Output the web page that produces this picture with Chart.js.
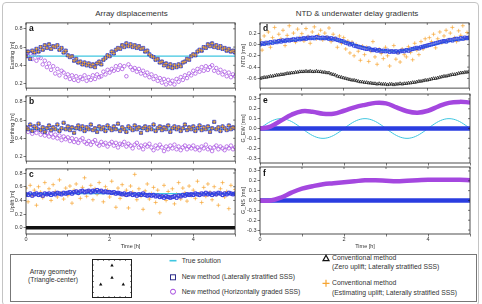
<!DOCTYPE html>
<html>
<head>
<meta charset="utf-8">
<script src="https://cdn.jsdelivr.net/npm/chart.js@4.4.1/dist/chart.umd.min.js"></script>
<style>
  html, body { margin: 0; padding: 0; background: #fff; }
  #fig { position: relative; width: 482px; height: 304px; overflow: hidden;
         font-family: "Liberation Sans", Arial, Helvetica, sans-serif; color: #333; }
  #frame { position: absolute; left: 2px; top: 2px; width: 477px; height: 304px;
           border: 1px solid #c4c4c4; border-radius: 4px; box-sizing: border-box; }
  #legend { position: absolute; left: 10px; top: 254px; width: 467px; height: 48px;
            border: 1px solid #777; box-sizing: border-box; }
  canvas { position: absolute; }
  .title { position: absolute; font-size: 8px; white-space: nowrap; transform: translate(-50%, -50%); }
  .lt { position: absolute; font-size: 6.8px; line-height: 1; white-space: nowrap; transform: translateY(-50%); }
  .lc { position: absolute; font-size: 6.8px; line-height: 1; white-space: nowrap; transform: translate(-50%, -50%); }
  svg { position: absolute; left: 0; top: 0; }
</style>
</head>
<body>
<div id="fig">
  <div id="frame"></div>
  <div class="title" style="left:131.5px;top:13px">Array displacements</div>
  <div class="title" style="left:357px;top:13px">NTD &amp; underwater delay gradients</div>

  <div id="legend"></div>
  <div class="lc" style="left:53px;top:271.7px">Array geometry</div>
  <div class="lc" style="left:53px;top:280px">(Triangle-center)</div>
  <div class="lt" style="left:181.7px;top:260.7px">True solution</div>
  <div class="lt" style="left:181.7px;top:277.3px">New method (Laterally stratified SSS)</div>
  <div class="lt" style="left:181.7px;top:291.7px">New method (Horizontally graded SSS)</div>
  <div class="lt" style="left:332px;top:258.3px">Conventional method</div>
  <div class="lt" style="left:332px;top:267.3px">(Zero uplift; Laterally stratified SSS)</div>
  <div class="lt" style="left:332px;top:283.3px">Conventional method</div>
  <div class="lt" style="left:332px;top:292.7px">(Estimating uplift; Laterally stratified SSS)</div>

  <svg width="482" height="304">
    <rect x="92.5" y="259.5" width="39" height="38" fill="none" stroke="#222" stroke-width="1"/>
    <path d="M98 259.5V261M103.5 259.5V261M109 259.5V261M114.5 259.5V261M120 259.5V261M125.5 259.5V261
             M98 297.5V296M103.5 297.5V296M109 297.5V296M114.5 297.5V296M120 297.5V296M125.5 297.5V296
             M92.5 265H94M92.5 270.5H94M92.5 276H94M92.5 281.5H94M92.5 287H94M92.5 292.5H94
             M131.5 265H130M131.5 270.5H130M131.5 276H130M131.5 281.5H130M131.5 287H130M131.5 292.5H130"
          stroke="#222" stroke-width="0.6"/>
    <polygon points="112,263.4 110.3,266.4 113.7,266.4" fill="#111"/>
    <polygon points="112,275.7 110.3,278.7 113.7,278.7" fill="#111"/>
    <polygon points="100.7,282.4 99,285.4 102.4,285.4" fill="#111"/>
    <polygon points="123.3,282.4 121.6,285.4 125,285.4" fill="#111"/>
    <line x1="169.5" y1="260.7" x2="176.5" y2="260.7" stroke="#3fc6e0" stroke-width="1.6"/>
    <rect x="170.5" y="274.8" width="5" height="5" fill="none" stroke="#2d2d8a" stroke-width="1"/>
    <circle cx="173" cy="291.7" r="2.5" fill="none" stroke="#a447df" stroke-width="1"/>
    <polygon points="326,255.3 323,260.6 329,260.6" fill="none" stroke="#111" stroke-width="1.2"/>
    <path d="M322.5 283.3H329.5M326 279.8V286.8" stroke="#f6a532" stroke-width="1.2"/>
  </svg>
</div>

<script>
// sampling grids [h]
const TIME = Array.from({ length: 101 }, (_, i) => i / 20);   // every 3 min
const TIME_Q = Array.from({ length: 21 }, (_, i) => i / 4);   // coarse curves
const TIME_D = Array.from({ length: 51 }, (_, i) => i / 10);
const T_ENDS = [0, 5];

// tick labels
const TICKS_HOR = [0.2, 0.4, 0.6, 0.8];
const TICKS_UP = [0.0, 0.2, 0.4, 0.6, 0.8];
const TICKS_NTD = [-0.6, -0.4, -0.2, 0.0, 0.2];
const TICKS_GRAD = [-0.3, -0.2, -0.1, 0.0, 0.1, 0.2, 0.3];

// a: Easting [m]
const EAST_TRUE = [0.5, 0.5];
const EAST_NEW = [
  0.50,0.55,0.47,0.56,0.54,0.58,0.55,0.60,0.57,0.62,
  0.59,0.63,0.58,0.61,0.60,0.62,0.57,0.59,0.54,0.56,
  0.51,0.49,0.50,0.45,0.47,0.43,0.44,0.41,0.43,0.40,
  0.42,0.39,0.41,0.38,0.42,0.44,0.41,0.46,0.48,0.51,
  0.50,0.55,0.53,0.57,0.59,0.58,0.62,0.60,0.64,0.61,
  0.63,0.60,0.62,0.59,0.61,0.58,0.59,0.55,0.56,0.52,
  0.50,0.49,0.46,0.47,0.43,0.44,0.40,0.42,0.38,0.41,
  0.37,0.40,0.38,0.41,0.39,0.43,0.44,0.47,0.46,0.50,
  0.52,0.51,0.55,0.57,0.56,0.60,0.59,0.63,0.61,0.64,
  0.60,0.62,0.59,0.61,0.58,0.59,0.56,0.58,0.55,0.56,
  0.54];
const EAST_GRAD = [
  0.55,0.50,0.53,0.47,0.52,0.45,0.49,0.48,0.41,0.45,
  0.38,0.42,0.35,0.39,0.31,0.36,0.29,0.34,0.32,0.27,
  0.30,0.25,0.29,0.24,0.28,0.23,0.27,0.25,0.29,0.23,
  0.27,0.24,0.29,0.25,0.30,0.27,0.28,0.33,0.30,0.35,
  0.32,0.36,0.34,0.39,0.35,0.40,0.36,0.39,0.28,0.41,
  0.38,0.35,0.37,0.33,0.36,0.31,0.34,0.29,0.32,0.27,
  0.30,0.25,0.28,0.23,0.26,0.21,0.25,0.19,0.24,0.20,
  0.23,0.19,0.25,0.22,0.27,0.24,0.29,0.26,0.31,0.29,
  0.34,0.31,0.36,0.33,0.38,0.34,0.39,0.35,0.38,0.40,
  0.34,0.37,0.32,0.35,0.30,0.33,0.28,0.32,0.27,0.30,
  0.28];

// b: Northing [m]
const NORTH_TRUE = [0.5, 0.5];
const NORTH_NEW = [
  0.52,0.50,0.55,0.48,0.53,0.51,0.56,0.49,0.52,0.47,
  0.51,0.54,0.49,0.52,0.50,0.55,0.48,0.51,0.57,0.50,
  0.53,0.49,0.52,0.46,0.51,0.54,0.50,0.53,0.48,0.52,
  0.50,0.55,0.49,0.51,0.47,0.53,0.50,0.52,0.48,0.54,
  0.51,0.49,0.53,0.50,0.56,0.48,0.52,0.50,0.47,0.53,
  0.51,0.49,0.54,0.50,0.52,0.46,0.51,0.53,0.49,0.52,
  0.50,0.55,0.48,0.51,0.53,0.49,0.52,0.50,0.54,0.47,
  0.51,0.53,0.50,0.52,0.48,0.51,0.55,0.49,0.52,0.50,
  0.53,0.48,0.51,0.54,0.49,0.52,0.50,0.53,0.47,0.51,
  0.58,0.50,0.52,0.48,0.53,0.51,0.49,0.54,0.50,0.52,
  0.51];
const NORTH_GRAD = [
  0.50,0.47,0.52,0.45,0.49,0.46,0.50,0.44,0.47,0.43,
  0.46,0.42,0.45,0.41,0.44,0.40,0.43,0.38,0.42,0.39,
  0.41,0.37,0.40,0.36,0.39,0.35,0.38,0.40,0.36,0.34,
  0.37,0.33,0.36,0.38,0.34,0.32,0.36,0.33,0.35,0.31,
  0.34,0.36,0.32,0.35,0.30,0.34,0.33,0.36,0.31,0.34,
  0.32,0.29,0.33,0.35,0.30,0.32,0.28,0.33,0.31,0.34,
  0.30,0.27,0.32,0.29,0.33,0.30,0.26,0.31,0.28,0.32,
  0.29,0.33,0.28,0.31,0.27,0.30,0.32,0.28,0.31,0.29,
  0.32,0.28,0.30,0.27,0.31,0.29,0.33,0.28,0.30,0.26,
  0.30,0.32,0.28,0.31,0.29,0.27,0.31,0.29,0.32,0.28,
  0.30];

// c: Uplift [m]
const UP_TRUE = [0.5, 0.5];
const UP_ZERO = [0, 0];
const UP_NEW = [
  0.49,0.48,0.50,0.47,0.49,0.50,0.48,0.49,0.47,0.50,
  0.49,0.50,0.48,0.50,0.49,0.51,0.50,0.49,0.51,0.50,
  0.51,0.52,0.50,0.52,0.53,0.51,0.53,0.54,0.52,0.53,
  0.54,0.52,0.54,0.53,0.55,0.53,0.54,0.52,0.53,0.52,
  0.52,0.51,0.52,0.50,0.51,0.50,0.49,0.50,0.48,0.49,
  0.50,0.48,0.49,0.47,0.49,0.48,0.50,0.48,0.47,0.48,
  0.47,0.48,0.46,0.47,0.45,0.46,0.44,0.46,0.45,0.44,
  0.45,0.46,0.44,0.47,0.46,0.48,0.47,0.49,0.48,0.49,
  0.48,0.50,0.49,0.48,0.50,0.49,0.51,0.49,0.50,0.48,
  0.50,0.49,0.51,0.50,0.48,0.50,0.49,0.51,0.50,0.49,
  0.50];
const UP_CONV = [
  0.58,0.38,0.62,0.47,0.55,0.33,0.60,0.52,0.44,0.66,
  0.49,0.57,0.40,0.63,0.53,0.45,0.70,0.51,0.42,0.58,
  0.47,0.61,0.36,0.55,0.64,0.50,0.43,0.59,0.73,0.46,
  0.54,0.62,0.41,0.57,0.49,0.66,0.52,0.38,0.60,0.55,
  0.45,0.68,0.50,0.30,0.58,0.43,0.63,0.48,0.55,0.29,
  0.61,0.52,0.78,0.41,0.57,0.46,0.27,0.54,0.64,0.42,
  0.50,0.59,0.37,0.55,0.22,0.47,0.62,0.40,0.53,0.44,
  0.57,0.35,0.49,0.66,0.42,0.58,0.51,0.39,0.61,0.47,
  0.55,0.43,0.68,0.50,0.37,0.59,0.46,0.64,0.52,0.41,
  0.60,0.48,0.33,0.57,0.66,0.45,0.53,0.28,0.62,0.50,
  0.56];

// d: NTD [ms]
const NTD_TRUE = [-0.01,0.02,0.05,0.07,0.09,0.10,0.10,0.09,0.05,0.00,-0.05,
  -0.09,-0.11,-0.12,-0.10,-0.06,-0.03,0.01,0.05,0.08,0.10];
const NTD_NEW = [
  0.00,0.02,0.01,0.03,0.02,0.04,0.03,0.05,0.04,0.06,
  0.05,0.07,0.06,0.08,0.07,0.08,0.09,0.08,0.10,0.09,
  0.10,0.11,0.10,0.12,0.11,0.12,0.11,0.13,0.12,0.11,
  0.12,0.11,0.12,0.10,0.11,0.09,0.10,0.08,0.07,0.06,
  0.05,0.03,0.02,0.00,0.01,-0.02,-0.03,-0.04,-0.05,-0.06,
  -0.07,-0.08,-0.07,-0.09,-0.10,-0.09,-0.11,-0.10,-0.12,-0.11,
  -0.12,-0.11,-0.13,-0.12,-0.13,-0.12,-0.14,-0.12,-0.11,-0.12,
  -0.10,-0.11,-0.09,-0.08,-0.07,-0.06,-0.07,-0.05,-0.04,-0.03,
  -0.02,-0.01,0.00,0.01,0.02,0.03,0.04,0.05,0.06,0.05,
  0.07,0.08,0.07,0.09,0.10,0.09,0.11,0.10,0.12,0.11,
  0.12];
const NTD_ZERO_UP = [
  -0.60,-0.59,-0.58,-0.58,-0.57,-0.56,-0.56,-0.55,-0.54,-0.54,
  -0.53,-0.53,-0.52,-0.51,-0.51,-0.50,-0.50,-0.49,-0.49,-0.48,
  -0.48,-0.48,-0.47,-0.48,-0.47,-0.48,-0.48,-0.47,-0.48,-0.48,
  -0.49,-0.49,-0.50,-0.50,-0.52,-0.53,-0.54,-0.56,-0.57,-0.58,
  -0.59,-0.60,-0.61,-0.62,-0.63,-0.63,-0.64,-0.65,-0.66,-0.66,
  -0.67,-0.67,-0.68,-0.68,-0.69,-0.69,-0.70,-0.69,-0.70,-0.70,
  -0.70,-0.71,-0.70,-0.70,-0.71,-0.70,-0.70,-0.69,-0.70,-0.69,
  -0.69,-0.68,-0.68,-0.67,-0.67,-0.66,-0.65,-0.65,-0.64,-0.63,
  -0.63,-0.62,-0.61,-0.60,-0.60,-0.59,-0.58,-0.57,-0.56,-0.56,
  -0.55,-0.54,-0.53,-0.53,-0.52,-0.51,-0.50,-0.50,-0.49,-0.49,
  -0.48];
const NTD_EST_UP = [
  0.08,-0.10,0.15,0.02,0.22,-0.05,0.12,0.30,0.05,0.18,
  0.10,0.25,-0.02,0.16,0.33,0.08,0.20,0.04,0.27,0.12,
  0.19,0.06,0.28,0.14,0.02,0.22,0.31,0.10,0.17,0.25,
  0.08,0.20,0.13,0.29,0.05,0.18,0.11,-0.05,0.15,0.02,
  0.12,-0.08,0.06,-0.15,0.04,-0.20,0.00,-0.12,-0.28,-0.03,
  -0.18,-0.05,-0.30,-0.12,0.05,-0.22,-0.35,-0.08,-0.16,-0.25,
  -0.05,-0.20,-0.38,-0.12,-0.02,-0.26,-0.15,-0.31,-0.08,-0.18,
  -0.22,-0.04,-0.14,-0.27,0.02,-0.10,-0.18,0.05,-0.08,0.10,
  -0.02,0.12,0.05,0.18,-0.06,0.10,0.22,0.03,0.15,0.25,
  0.08,0.20,0.30,0.12,0.05,0.24,0.16,0.33,0.10,0.21,
  0.14];

// e: G_EW [ms]
const GEW_TRUE = [
  0,0.031,0.059,0.081,0.095,0.1,0.095,0.081,0.059,0.031,
  0,-0.031,-0.059,-0.081,-0.095,-0.1,-0.095,-0.081,-0.059,-0.031,
  0,0.031,0.059,0.081,0.095,0.1,0.095,0.081,0.059,0.031,
  0,-0.031,-0.059,-0.081,-0.095,-0.1,-0.095,-0.081,-0.059,-0.031,
  0,0.031,0.059,0.081,0.095,0.1,0.095,0.081,0.059,0.031,
  0];
const GEW_NEW = [0, 0];
const GEW_GRAD = [0.0,0.02,0.08,0.14,0.175,0.17,0.15,0.15,0.18,0.215,0.24,
  0.26,0.255,0.215,0.175,0.16,0.18,0.225,0.26,0.27,0.265];

// f: G_NS [ms]
const GNS_TRUE = [0, 0];
const GNS_NEW = [0, 0];
const GNS_GRAD = [0.0,0.0,0.03,0.08,0.12,0.145,0.165,0.175,0.185,0.195,0.205,
  0.205,0.20,0.195,0.20,0.205,0.21,0.21,0.21,0.21,0.205];

const ORANGE = '#f6a532';
const BLUE = '#2a3de0';
const PURPLE = '#a447df';
const CYAN = '#3fc6e0';
const BLACK = '#111111';

Chart.defaults.font.family = '"Liberation Sans", Arial, Helvetica, sans-serif';
Chart.defaults.color = '#333';

function pts(t, v) {
  return v.map((y, i) => ({ x: t[i], y: y }));
}
function plusSet(t, v) {
  return { data: pts(t, v), pointStyle: 'cross', pointRadius: 2, borderColor: ORANGE, borderWidth: 0.7 };
}
function squareSet(t, v) {
  return { data: pts(t, v), pointStyle: 'rect', pointRadius: 2.2, borderColor: BLUE,
           backgroundColor: 'rgba(0,0,0,0)', borderWidth: 0.9 };
}
function circleSet(t, v) {
  return { data: pts(t, v), pointStyle: 'circle', pointRadius: 1.8, borderColor: PURPLE,
           backgroundColor: 'rgba(0,0,0,0)', borderWidth: 0.7 };
}
function triSet(t, v) {
  return { data: pts(t, v), pointStyle: 'triangle', pointRadius: 1.8, borderColor: BLACK,
           backgroundColor: 'rgba(0,0,0,0)', borderWidth: 0.7 };
}
function lineSet(t, v, color, w) {
  return { data: pts(t, v), showLine: true, pointRadius: 0, borderColor: color, borderWidth: w,
           tension: 0.4, fill: false };
}

// plot box, mirrored ticks and panel letter
const panelFrame = {
  id: 'panelFrame',
  afterDraw(chart, args, opts) {
    const { ctx, chartArea: a, scales } = chart;
    ctx.save();
    ctx.strokeStyle = '#222';
    ctx.lineWidth = 0.8;
    ctx.strokeRect(a.left, a.top, a.right - a.left, a.bottom - a.top);
    ctx.lineWidth = 0.6;
    ctx.beginPath();
    scales.x.ticks.forEach(t => {
      const x = scales.x.getPixelForValue(t.value);
      ctx.moveTo(x, a.top); ctx.lineTo(x, a.top + 2);
    });
    scales.y.ticks.forEach(t => {
      const y = scales.y.getPixelForValue(t.value);
      ctx.moveTo(a.right, y); ctx.lineTo(a.right - 2, y);
    });
    ctx.stroke();
    ctx.fillStyle = '#111';
    ctx.font = 'bold 8.5px "Liberation Sans", Arial, sans-serif';
    ctx.textBaseline = 'top';
    ctx.fillText(opts.letter, a.left + 3, a.top + 2);
    ctx.restore();
  }
};

function panel(p) {
  const bottom = p.bottom;
  const cv = document.createElement('canvas');
  const h = 3 + p.plotH + (bottom ? 16 : 3);
  cv.width = 236;
  cv.height = h;
  cv.style.left = (p.plotX - 22) + 'px';
  cv.style.top = (p.plotY - 3) + 'px';
  document.getElementById('fig').appendChild(cv);

  const gridOpt = { drawOnChartArea: false, tickLength: 2.5, color: '#222', lineWidth: 0.6 };
  new Chart(cv, {
    type: 'scatter',
    data: { datasets: p.datasets },
    options: {
      responsive: false,
      animation: false,
      events: [],
      layout: { padding: { top: 3, right: 4, left: 0, bottom: 0 } },
      plugins: { legend: { display: false }, tooltip: { enabled: false }, panelFrame: { letter: p.letter } },
      scales: {
        x: {
          type: 'linear', min: 0, max: 5,
          ticks: { stepSize: 1, autoSkip: false, maxRotation: 0, padding: 0, font: { size: 5.5 },
                   callback: v => (bottom && v % 2 === 0) ? String(v) : '' },
          grid: gridOpt,
          border: { display: false },
          title: { display: bottom, text: 'Time [h]', font: { size: 5.5 }, padding: 0 },
          afterFit: s => { s.height = bottom ? 16 : 3; s.paddingLeft = 0; s.paddingRight = 0; }
        },
        y: {
          type: 'linear', min: p.yMin, max: p.yMax,
          afterBuildTicks: s => { s.ticks = p.ticks.map(v => ({ value: v })); },
          ticks: { padding: 1, font: { size: 5.5 }, callback: v => v.toFixed(1) },
          grid: gridOpt,
          border: { display: false },
          title: { display: true, text: p.yLabel, font: { size: 5.5 }, padding: { top: p.titlePad, bottom: 0 } },
          afterFit: s => { s.width = 22; s.paddingTop = 0; s.paddingBottom = 0; }
        }
      }
    },
    plugins: [panelFrame]
  });
}

// datasets listed top-most first
panel({ letter: 'a', plotX: 26, plotY: 21, plotH: 69, yMin: 0.15, yMax: 0.865, ticks: TICKS_HOR,
  yLabel: 'Easting [m]', titlePad: 4.7, bottom: false,
  datasets: [plusSet(TIME, EAST_NEW), squareSet(TIME, EAST_NEW), triSet(TIME, EAST_NEW),
             lineSet(T_ENDS, EAST_TRUE, CYAN, 1.2), circleSet(TIME, EAST_GRAD)] });

panel({ letter: 'b', plotX: 26, plotY: 94, plotH: 69, yMin: 0.15, yMax: 0.865, ticks: TICKS_HOR,
  yLabel: 'Northing [m]', titlePad: 4.7, bottom: false,
  datasets: [plusSet(TIME, NORTH_NEW), squareSet(TIME, NORTH_NEW), triSet(TIME, NORTH_NEW),
             lineSet(T_ENDS, NORTH_TRUE, CYAN, 1.2), circleSet(TIME, NORTH_GRAD)] });

panel({ letter: 'c', plotX: 26, plotY: 167, plotH: 67, yMin: -0.09, yMax: 0.86, ticks: TICKS_UP,
  yLabel: 'Uplift [m]', titlePad: 4.7, bottom: true,
  datasets: [squareSet(TIME, UP_NEW), circleSet(TIME, UP_NEW), lineSet(T_ENDS, UP_TRUE, CYAN, 1.2),
             plusSet(TIME, UP_CONV), lineSet(T_ENDS, UP_ZERO, BLACK, 3.5)] });

panel({ letter: 'd', plotX: 260, plotY: 21, plotH: 69, yMin: -0.77, yMax: 0.38, ticks: TICKS_NTD,
  yLabel: 'NTD [ms]', titlePad: 2.2, bottom: false,
  datasets: [squareSet(TIME, NTD_NEW), lineSet(TIME_Q, NTD_TRUE, CYAN, 1.2),
             plusSet(TIME, NTD_EST_UP), triSet(TIME, NTD_ZERO_UP)] });

panel({ letter: 'e', plotX: 260, plotY: 94, plotH: 69, yMin: -0.35, yMax: 0.35, ticks: TICKS_GRAD,
  yLabel: 'G_EW [ms]', titlePad: 2.2, bottom: false,
  datasets: [lineSet(TIME_Q, GEW_GRAD, PURPLE, 4.5), lineSet(T_ENDS, GEW_NEW, BLUE, 4.5),
             lineSet(TIME_D, GEW_TRUE, CYAN, 1)] });

panel({ letter: 'f', plotX: 260, plotY: 167, plotH: 67, yMin: -0.34, yMax: 0.34, ticks: TICKS_GRAD,
  yLabel: 'G_NS [ms]', titlePad: 2.2, bottom: true,
  datasets: [lineSet(TIME_Q, GNS_GRAD, PURPLE, 4.5), lineSet(T_ENDS, GNS_NEW, BLUE, 4.5),
             lineSet(T_ENDS, GNS_TRUE, CYAN, 1)] });
</script>
</body>
</html>
